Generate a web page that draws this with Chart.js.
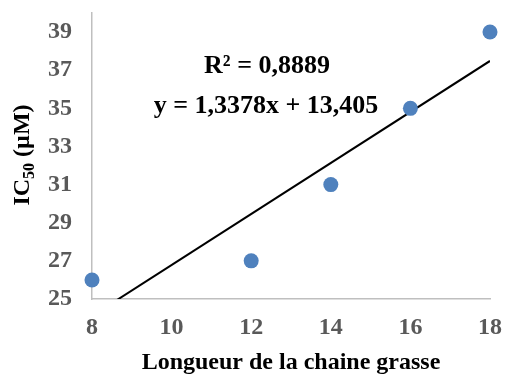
<!DOCTYPE html>
<html>
<head>
<meta charset="utf-8">
<script src="https://cdn.jsdelivr.net/npm/chart.js@4"></script>
<style>
  html, body { margin: 0; padding: 0; background: #fff; }
  #wrap { width: 505px; height: 374px; }
</style>
</head>
<body>
<div id="wrap"><canvas id="ic50"></canvas></div>
<script>
// Data
const chainLength = [8, 12, 14, 16, 18];
const ic50 = [26, 27, 31, 35, 39];
const yTicks = [25, 27, 29, 31, 33, 35, 37, 39];

// Linear trendline as given on the chart
const slope = 1.3378;
const intercept = 13.405;
const trendX = [8, 18];

const serif = '"Liberation Serif", "Times New Roman", serif';
const tickGray = '#595959';

const points = chainLength.map((x, i) => ({ x: x, y: ic50[i] }));
const trend = trendX.map(x => ({ x: x, y: slope * x + intercept }));

// y axis title with subscript + equation labels
const labelsPlugin = {
  id: 'labels',
  afterDraw(chart) {
    const ctx = chart.ctx;
    ctx.save();
    ctx.fillStyle = '#000';

    // trendline labels
    ctx.font = 'bold 26px ' + serif;
    ctx.textAlign = 'center';
    ctx.textBaseline = 'alphabetic';
    ctx.fillText('R² = 0,8889', 267, 73);
    ctx.fillText('y = 1,3378x + 13,405', 266, 113);

    // IC50 (µM), rotated
    const big = 'bold 24px ' + serif;
    const small = 'bold 16px ' + serif;
    ctx.font = big;
    const w1 = ctx.measureText('IC').width;
    const w3 = ctx.measureText(' (µM)').width;
    ctx.font = small;
    const w2 = ctx.measureText('50').width;
    const total = w1 + w2 + w3;
    ctx.translate(29, 155);
    ctx.rotate(-Math.PI / 2);
    ctx.textAlign = 'left';
    let x = -total / 2;
    ctx.font = big;
    ctx.fillText('IC', x, 0);
    x += w1;
    ctx.font = small;
    ctx.fillText('50', x, 5);
    x += w2;
    ctx.font = big;
    ctx.fillText(' (µM)', x, 0);
    ctx.restore();
  }
};

new Chart(
  document.getElementById('ic50'),
  {
    type: 'scatter',
    data: {
      datasets: [
        {
          label: 'IC50',
          data: points,
          backgroundColor: '#4F81BD',
          borderWidth: 0,
          pointRadius: 7.5,
          pointHoverRadius: 7.5,
          clip: false,
          order: 1
        },
        {
          type: 'line',
          label: 'trend',
          data: trend,
          borderColor: '#000',
          borderWidth: 2,
          pointRadius: 0,
          fill: false,
          clip: 0,
          order: 2
        }
      ]
    },
    options: {
      responsive: true,
      maintainAspectRatio: false,
      animation: false,
      layout: { padding: { left: 0, right: 15, top: 13, bottom: 0 } },
      plugins: {
        legend: { display: false },
        tooltip: { enabled: false }
      },
      scales: {
        x: {
          type: 'linear',
          min: 8,
          max: 18,
          grid: { display: false, drawTicks: false },
          border: { display: true, color: '#BFBFBF', width: 1.5 },
          ticks: {
            stepSize: 2,
            padding: 14,
            color: tickGray,
            font: { family: serif, size: 24, weight: 'bold' }
          },
          title: {
            display: true,
            text: 'Longueur de la chaine grasse',
            color: '#000',
            padding: { top: 0, bottom: -3 },
            font: { family: serif, size: 24, weight: 'bold' }
          },
          afterFit(scale) {
            scale.height = 75;
            scale.paddingLeft = 0;
            scale.paddingRight = 0;
          }
        },
        y: {
          min: 25,
          max: 40,
          grid: { display: false, drawTicks: false },
          border: { display: true, color: '#BFBFBF', width: 1.5 },
          ticks: {
            padding: 20,
            color: tickGray,
            font: { family: serif, size: 24, weight: 'bold' }
          },
          afterBuildTicks(scale) {
            scale.ticks = yTicks.map(v => ({ value: v }));
          },
          afterFit(scale) {
            scale.width = 92;
            scale.paddingTop = 0;
            scale.paddingBottom = 0;
          }
        }
      }
    },
    plugins: [labelsPlugin]
  }
);
</script>
</body>
</html>
